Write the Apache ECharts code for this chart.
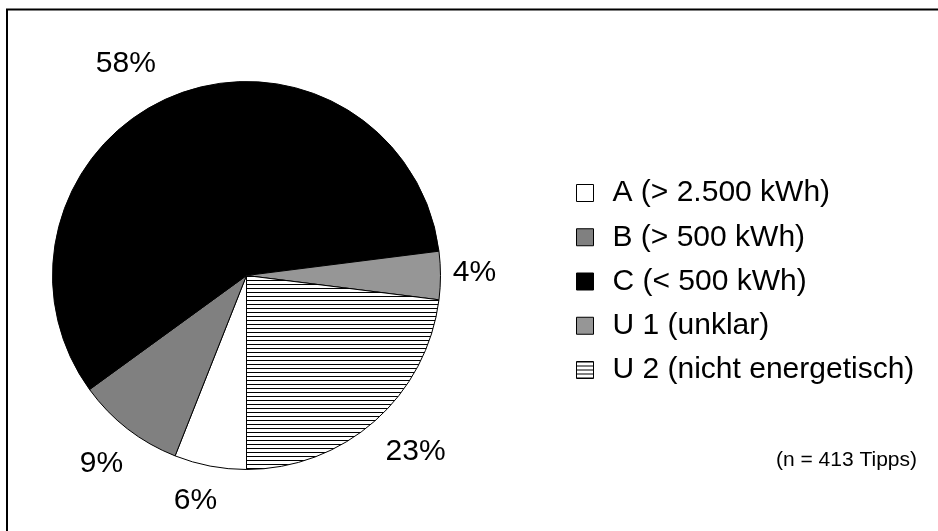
<!DOCTYPE html>
<html>
<head>
<meta charset="utf-8">
<script src="https://cdn.jsdelivr.net/npm/echarts@6/dist/echarts.min.js"></script>
<style>
  html, body { margin: 0; padding: 0; background: #fff; }
  #chart { width: 938px; height: 531px; }
</style>
</head>
<body>
<div id="chart"></div>
<script>
// ---- data ----
const categories = ['A (> 2.500 kWh)', 'B (> 500 kWh)', 'C (< 500 kWh)', 'U 1 (unklar)', 'U 2 (nicht energetisch)'];
const shares = [6, 9, 58, 4, 23];
const noteText = '(n = 413 Tipps)';

// ---- styles ----
const FONT = "'Liberation Sans', Arial, sans-serif";
function stripePattern() {
  const c = document.createElement('canvas');
  c.width = 8; c.height = 4;
  const g = c.getContext('2d');
  g.fillStyle = '#ffffff'; g.fillRect(0, 0, 8, 4);
  g.fillStyle = '#000000'; g.fillRect(0, 0, 8, 1);
  return { image: c, repeat: 'repeat' };
}
const sliceFills = ['#ffffff', '#808080', '#000000', '#969696', stripePattern()];
const labelOffsets = [[-8, -1], [-4, 6], [-36, 2], [-2, -3], [17, 4]];

const chart = echarts.init(document.getElementById('chart'), null, { renderer: 'canvas' });

const mainData = categories.map((name, i) => ({
  name: name,
  value: shares[i],
  itemStyle: { color: sliceFills[i] }
}));
const labelData = categories.map((name, i) => ({
  name: 'lbl' + i,
  value: shares[i],
  label: { offset: labelOffsets[i] }
}));

chart.setOption({
  animation: false,
  backgroundColor: '#ffffff',
  legend: {
    data: categories,
    orient: 'vertical',
    left: 571,
    top: 173,
    icon: 'rect',
    itemWidth: 17,
    itemHeight: 17,
    itemGap: 14.25,
    selectedMode: false,
    itemStyle: { borderColor: '#000', borderWidth: 1 },
    textStyle: {
      fontFamily: FONT, fontSize: 30, color: '#000', lineHeight: 30,
      padding: [0, 0, 0, 14]
    }
  },
  graphic: [
    {
      type: 'rect',
      shape: { x: 7, y: 9.5, width: 1200, height: 1000 },
      style: { fill: 'none', stroke: '#000', lineWidth: 2 },
      silent: true
    },
    {
      type: 'text',
      right: 21,
      top: 450,
      style: { text: noteText, font: '21px ' + FONT, fill: '#000' },
      silent: true
    }
  ],
  series: [
    {
      type: 'pie',
      center: [246.5, 275.5],
      radius: [0, 194],
      startAngle: 270,
      clockwise: true,
      silent: true,
      label: { show: false },
      labelLine: { show: false },
      itemStyle: { borderColor: '#000', borderWidth: 1 },
      emphasis: { disabled: true },
      data: mainData
    },
    {
      type: 'pie',
      center: [246.5, 275.5],
      radius: [217, 237],
      startAngle: 270,
      clockwise: true,
      silent: true,
      legendHoverLink: false,
      itemStyle: { color: 'rgba(0,0,0,0)', borderWidth: 0 },
      label: {
        show: true,
        position: 'inside',
        formatter: '{c}%',
        fontFamily: FONT,
        fontSize: 30,
        color: '#000'
      },
      labelLine: { show: false },
      emphasis: { disabled: true },
      data: labelData
    }
  ]
});
</script>
</body>
</html>
